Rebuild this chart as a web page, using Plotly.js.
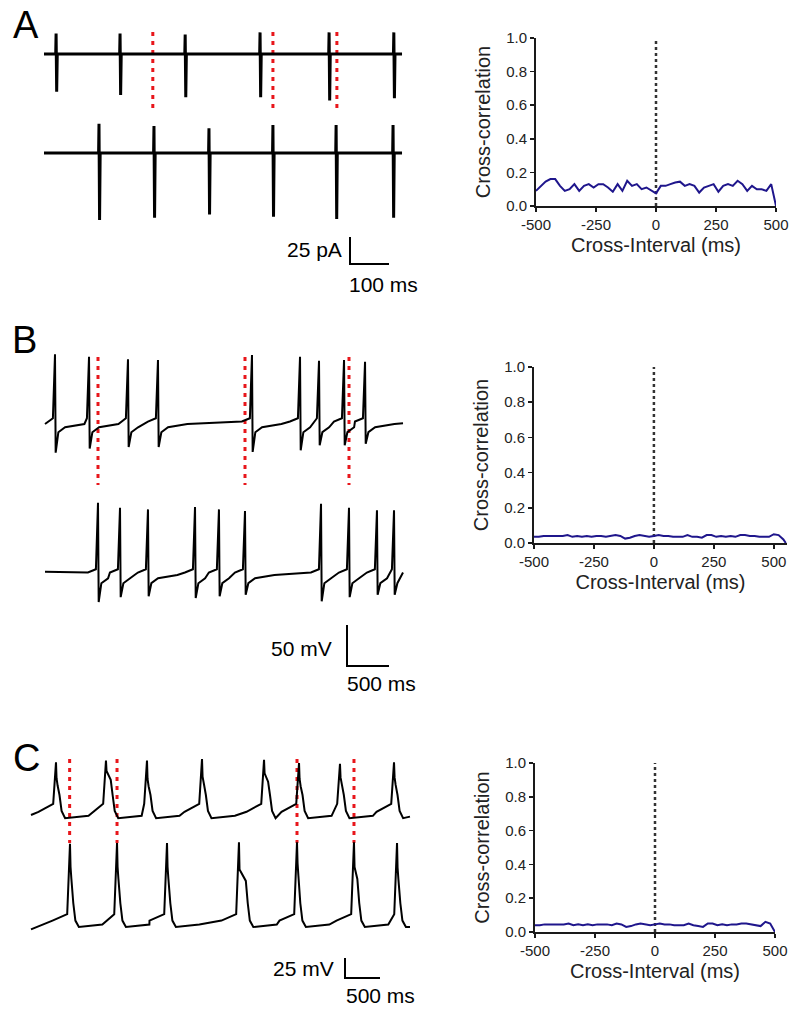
<!DOCTYPE html>
<html>
<head>
<meta charset="utf-8">
<script src="https://cdn.plot.ly/plotly-3.0.1.min.js"></script>
<style>html,body{margin:0;padding:0;background:#fff;}#chart{width:800px;height:1011px;}</style>
</head>
<body>
<div id="chart"></div>
<script>
// ---------------- DATA ----------------
// Panel A (cell-attached currents, ms / pA)
const aTopTimes = [31, 195, 362, 554, 731, 897];
const aTopUp    = [19, 19, 18, 20, 20, 20];
const aTopDown  = [35, 38, 40, 40, 43, 41];
const aBotTimes = [141, 282, 423, 587, 749, 895];
const aBotUp    = [27, 25, 23, 26, 26, 26];
const aBotDown  = [62, 60, 57, 59, 61, 60];
const aSync     = [279, 587, 751];
const aEnd      = 918;

// Panel B (membrane potential, ms / mV)
const bTopTimes   = [119, 524, 988, 1345, 2464, 3036, 3262, 3560, 3810];
const bTopPeaks   = [85, 82, 79, 78, 84, 82, 77, 78, 76];
const bTopTroughs = [-35, -30, -28, -28, -34, -32, -26, -26, -24];
const bBotTimes   = [631, 893, 1226, 1786, 2071, 2381, 3286, 3619, 3952, 4155];
const bBotPeaks   = [88, 82, 80, 83, 80, 78, 87, 82, 79, 79];
const bBotTroughs = [-33, -27, -26, -28, -26, -24, -32, -27, -24, -24];
const bSync       = [631, 2381, 3619];
const bEnd        = 4262;

// Panel C (membrane potential, ms / mV)
const cTopTimes     = [357, 1071, 1657, 2443, 3329, 3829, 4414, 5186];
const cTopPeaks     = [66, 68, 68, 70, 69, 65, 64, 66];
const cTopShoulders = [46, 55, 45, 48, 52, 45, 47, 47];
const cTopWidths    = [15, 60, 15, 20, 50, 15, 20, 15];
const cBotTimes     = [557, 1229, 1943, 2971, 3800, 4614, 5229];
const cBotPeaks     = [104, 105, 105, 106, 106, 106, 105];
const cBotShoulders = [75, 75, 75, 72, 80, 75, 74];
const cBotWidths    = [12, 12, 12, 90, 12, 40, 12];
const cSync         = [552, 1229, 3800, 4614];
const cEnd          = 5414;

// Cross-correlation (lag in ms)
const corrA = [0.09,0.12,0.145,0.16,0.16,0.12,0.09,0.10,0.13,0.09,0.12,0.13,0.11,0.13,0.13,0.11,0.085,0.13,0.09,0.15,0.12,0.13,0.10,0.11,0.09,0.075,0.12,0.12,0.13,0.14,0.145,0.12,0.13,0.12,0.08,0.11,0.12,0.13,0.085,0.12,0.13,0.12,0.15,0.13,0.09,0.12,0.10,0.10,0.09,0.13,0.0];
const corrB = [0.035,0.035,0.04,0.04,0.04,0.04,0.04,0.045,0.035,0.04,0.035,0.04,0.035,0.04,0.04,0.035,0.04,0.045,0.04,0.025,0.03,0.04,0.045,0.04,0.035,0.04,0.045,0.04,0.04,0.035,0.035,0.035,0.045,0.035,0.035,0.03,0.045,0.045,0.035,0.04,0.035,0.04,0.035,0.045,0.045,0.04,0.04,0.035,0.035,0.035,0.05,0.045,0.02,0.0];
const corrC = [0.04,0.04,0.045,0.045,0.045,0.045,0.045,0.05,0.04,0.045,0.04,0.045,0.04,0.045,0.045,0.045,0.04,0.05,0.045,0.03,0.035,0.045,0.05,0.045,0.04,0.045,0.05,0.045,0.045,0.04,0.04,0.04,0.05,0.04,0.035,0.03,0.05,0.05,0.04,0.045,0.04,0.045,0.045,0.05,0.05,0.045,0.04,0.035,0.06,0.05,0.0];
const lagsAC = []; for (let v = -500; v <= 500; v += 20) lagsAC.push(v);
const lagsB = []; for (let v = -500; v <= 540; v += 20) lagsB.push(v); lagsB.push(550);
const xTickVals = [-500, -250, 0, 250, 500];
const xTickText = ['-500', '-250', '0', '250', '500'];
const yTickVals = [0, 0.2, 0.4, 0.6, 0.8, 1.0];
const yTickText = ['0.0', '0.2', '0.4', '0.6', '0.8', '1.0'];

// ---------------- LAYOUT HELPERS ----------------
const W = 800, H = 1011;
const FONT = 'Liberation Sans, Arial, Helvetica, sans-serif';
const domX = (a, b) => [a / W, b / W];
const domY = (top, bot) => [1 - bot / H, 1 - top / H];

// left panel geometry: pixel box, time origin px, px/ms, baseline px, px/unit, bottom trace baseline px
const geo = {
  A: {x0: 20, x1: 430, y0: 10, y1: 300, t0: 44, sx: 0.39, base: 54, sy: 1.08, bot: 153, syncTop: 32, syncBot: 113, bar: {px: 350, py: 237, amp: 25, dur: 100}},
  B: {x0: 20, x1: 430, y0: 325, y1: 700, t0: 45, sx: 0.084, base: 424, sy: 0.82, bot: 575, syncTop: 357, syncBot: 485, bar: {px: 347, py: 625, amp: 50, dur: 500}},
  C: {x0: 15, x1: 430, y0: 735, y1: 1008, t0: 31, sx: 0.07, base: 815, sy: 0.8, bot: 927, syncTop: 759, syncBot: 843, bar: {px: 345, py: 958, amp: 25, dur: 500}}
};
const toT = (g, px) => (px - g.t0) / g.sx;
const toV = (g, py) => (g.base - py) / g.sy;

function leftAxes(g) {
  return [
    {domain: domX(g.x0, g.x1), range: [toT(g, g.x0), toT(g, g.x1)], visible: false, fixedrange: true},
    {domain: domY(g.y0, g.y1), range: [toV(g, g.y1), toV(g, g.y0)], visible: false, fixedrange: true}
  ];
}

// ---------------- WAVEFORM BUILDERS ----------------
function buildA(times, ups, downs, off, tEnd) {
  const x = [0], y = [off];
  times.forEach((t, i) => {
    x.push(t - 1, t, t + 1.5, t + 3);
    y.push(off, off + ups[i], off - downs[i], off);
  });
  x.push(tEnd); y.push(off);
  return {x, y};
}

function buildB(times, peaks, troughs, off, startV, endV, tEnd) {
  const x = [0], y = [off + startV];
  const before = [[-120, 3], [-25, 7]];
  const after = [[40, -10], [120, -4], [350, 0]];
  times.forEach((t, i) => {
    before.forEach(([dt, v]) => { const tt = t + dt; if (tt > x[x.length - 1] + 1) { x.push(tt); y.push(off + v); } });
    x.push(t); y.push(off + peaks[i]);
    x.push(t + 8); y.push(off + troughs[i]);
    const next = i < times.length - 1 ? times[i + 1] - 30 : tEnd - 10;
    for (const [dt, v] of after) { const tt = t + dt; if (tt >= next) break; x.push(tt); y.push(off + v); }
  });
  x.push(tEnd); y.push(off + endV);
  return {x, y};
}

function buildC(times, peaks, shoulders, widths, off, startV, endV, tEnd, s) {
  const x = [0], y = [off + startV];
  times.forEach((t, i) => {
    const w = widths[i];
    [[-250, s.preLow], [-40, s.preHigh]].forEach(([dt, v]) => { const tt = t + dt; if (tt > x[x.length - 1] + 1) { x.push(tt); y.push(off + v); } });
    x.push(t, t + 8, t + 8 + w); y.push(off + peaks[i], off + shoulders[i], off + shoulders[i] * 0.8);
    const next = i < times.length - 1 ? times[i + 1] - 30 : tEnd - 10;
    const after = [[w + 35, s.fallMid], [w + 65, s.fallLow], [w + 115, s.trough], [w + 450, s.rec]];
    for (const [dt, v] of after) { const tt = t + dt; if (tt >= next) break; x.push(tt); y.push(off + v); }
  });
  x.push(tEnd); y.push(off + endV);
  return {x, y};
}

function syncTrace(times, g, xa, ya) {
  const x = [], y = [];
  const top = toV(g, g.syncTop), bot = toV(g, g.syncBot);
  times.forEach(t => { x.push(t, t, null); y.push(top, bot, null); });
  return {x, y, xaxis: xa, yaxis: ya, mode: 'lines', line: {color: '#e8161b', width: 3, dash: '4px,5px'}, hoverinfo: 'skip'};
}
function scaleBar(g, xa, ya) {
  const t = toT(g, g.bar.px), v = toV(g, g.bar.py);
  return {x: [t, t, t + g.bar.dur], y: [v, v - g.bar.amp, v - g.bar.amp], xaxis: xa, yaxis: ya, mode: 'lines', line: {color: '#000', width: 2}, hoverinfo: 'skip'};
}
const traceLine = (d, xa, ya, w) => ({x: d.x, y: d.y, xaxis: xa, yaxis: ya, mode: 'lines', line: {color: '#000', width: w, simplify: false}, hoverinfo: 'skip'});

// ---------------- TRACES ----------------
const gA = geo.A, gB = geo.B, gC = geo.C;
const offA = -(gA.bot - gA.base) / gA.sy;
const offB = -(gB.bot - gB.base) / gB.sy;
const offC = -(gC.bot - gC.base) / gC.sy;
const shapeTop = {preLow: 4, preHigh: 14, fallMid: 25, fallLow: 5, trough: -4, rec: -1};
const shapeBot = {preLow: 8, preHigh: 16, fallMid: 30, fallLow: 8, trough: 0, rec: 3};

const data = [
  syncTrace(aSync, gA, 'x', 'y'),
  traceLine(buildA(aTopTimes, aTopUp, aTopDown, 0, aEnd), 'x', 'y', 3),
  traceLine(buildA(aBotTimes, aBotUp, aBotDown, offA, aEnd), 'x', 'y', 3),
  scaleBar(gA, 'x', 'y'),

  syncTrace(bSync, gB, 'x3', 'y3'),
  traceLine(buildB(bTopTimes, bTopPeaks, bTopTroughs, 0, 0, 1, bEnd), 'x3', 'y3', 2),
  traceLine(buildB(bBotTimes, bBotPeaks, bBotTroughs, offB, 4, 3, bEnd), 'x3', 'y3', 2),
  scaleBar(gB, 'x3', 'y3'),

  syncTrace(cSync, gC, 'x5', 'y5'),
  traceLine(buildC(cTopTimes, cTopPeaks, cTopShoulders, cTopWidths, 0, 0, -2, cEnd, shapeTop), 'x5', 'y5', 2),
  traceLine(buildC(cBotTimes, cBotPeaks, cBotShoulders, cBotWidths, offC, -3, 0, cEnd, shapeBot), 'x5', 'y5', 2),
  scaleBar(gC, 'x5', 'y5'),
];

const corrColor = '#1f168c';
[[lagsAC, corrA, 'x2', 'y2'], [lagsB, corrB, 'x4', 'y4'], [lagsAC, corrC, 'x6', 'y6']].forEach(([lx, cy, xa, ya]) => {
  data.push({x: [0, 0], y: [0, 1], xaxis: xa, yaxis: ya, mode: 'lines', line: {color: '#333', width: 2.5, dash: 'dot'}, hoverinfo: 'skip'});
  data.push({x: lx, y: cy, xaxis: xa, yaxis: ya, mode: 'lines', line: {color: corrColor, width: 2}, cliponaxis: false, hoverinfo: 'skip'});
});

// ---------------- AXES ----------------
function corrX(px0, px1, range) {
  return {domain: domX(px0, px1), range: range, showgrid: false, zeroline: false, showline: true, linecolor: '#1a1a1a', linewidth: 2,
    ticks: 'outside', ticklen: 4, tickwidth: 1.5, tickcolor: '#1a1a1a', tickvals: xTickVals, ticktext: xTickText,
    tickfont: {family: FONT, size: 15, color: '#222'}, fixedrange: true,
    title: {text: 'Cross-Interval (ms)', font: {family: FONT, size: 20, color: '#222'}, standoff: 6}};
}
function corrY(top, bot) {
  return {domain: domY(top, bot), range: [0, 1], showgrid: false, zeroline: false, showline: true, linecolor: '#1a1a1a', linewidth: 2,
    ticks: 'outside', ticklen: 4, tickwidth: 1.5, tickcolor: '#1a1a1a', tickvals: yTickVals, ticktext: yTickText,
    tickfont: {family: FONT, size: 15, color: '#222'}, fixedrange: true,
    title: {text: 'Cross-correlation', font: {family: FONT, size: 20, color: '#222'}, standoff: 10}};
}
const [axA, ayA] = leftAxes(gA), [axB, ayB] = leftAxes(gB), [axC, ayC] = leftAxes(gC);

const layout = {
  width: W, height: H, margin: {l: 0, r: 0, t: 0, b: 0},
  paper_bgcolor: '#fff', plot_bgcolor: 'rgba(0,0,0,0)', showlegend: false,
  font: {family: FONT, color: '#111'},
  xaxis: Object.assign(axA, {anchor: 'y'}), yaxis: Object.assign(ayA, {anchor: 'x'}),
  xaxis2: Object.assign(corrX(536, 776, [-500, 500]), {anchor: 'y2'}), yaxis2: Object.assign(corrY(38, 206), {anchor: 'x2'}),
  xaxis3: Object.assign(axB, {anchor: 'y3'}), yaxis3: Object.assign(ayB, {anchor: 'x3'}),
  xaxis4: Object.assign(corrX(534, 787, [-500, 555]), {anchor: 'y4'}), yaxis4: Object.assign(corrY(367, 543), {anchor: 'x4'}),
  xaxis5: Object.assign(axC, {anchor: 'y5'}), yaxis5: Object.assign(ayC, {anchor: 'x5'}),
  xaxis6: Object.assign(corrX(535, 775, [-500, 500]), {anchor: 'y6'}), yaxis6: Object.assign(corrY(763, 932), {anchor: 'x6'}),
  annotations: []
};

const ann = (text, px, py, size, xanchor) => ({text, x: px / W, y: 1 - py / H, xref: 'paper', yref: 'paper', xanchor: xanchor || 'center', yanchor: 'middle', showarrow: false, font: {family: FONT, size, color: '#000'}});
layout.annotations.push(
  ann('A', 26, 25, 38), ann('B', 24, 340, 38), ann('C', 26, 758, 38),
  ann('25 pA', 344, 250, 21, 'right'), ann('100 ms', 347, 284, 21, 'left'),
  ann('50 mV', 334, 648, 21, 'right'), ann('500 ms', 345, 683, 21, 'left'),
  ann('25 mV', 336, 968, 21, 'right'), ann('500 ms', 344, 995, 21, 'left')
);

Plotly.newPlot('chart', data, layout, {staticPlot: true, displayModeBar: false});
</script>
</body>
</html>
